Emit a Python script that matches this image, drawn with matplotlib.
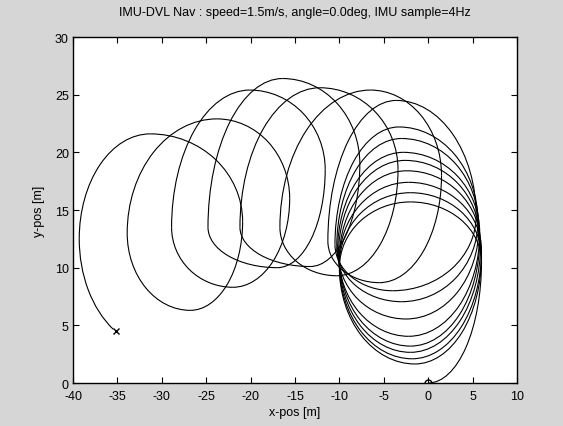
import math
import matplotlib
matplotlib.use("Agg")
import matplotlib.pyplot as plt
from matplotlib.patches import Arc

plt.rcParams['font.family'] = ['Liberation Sans', 'DejaVu Sans']
plt.rcParams['axes.unicode_minus'] = False

# extreme points of each loop (right, top, left, bottom)
right_x = [6.0, 6.0, 6.0, 5.9, 5.8, 5.8, 5.7, 5.6, 5.4, 1.5, -3.4, -7.7, -11.6, -15.6, -20.9]
right_y = [10.5, 11.0, 11.5, 12.0, 12.5, 13.0, 13.5, 14.0, 14.5, 18.0, 18.5, 19.0, 18.5, 16.0, 14.0]
top_x = [-2.0, -2.0, -2.2, -2.4, -2.6, -2.8, -3.0, -3.3, -3.6, -6.5, -12.2, -16.4, -20.1, -23.8, -31.3]
top_y = [15.7, 16.5, 17.4, 18.4, 19.3, 20.0, 21.2, 22.2, 24.5, 25.4, 25.6, 26.4, 25.4, 22.9, 21.6]
left_x = [-10.0, -10.0, -10.0, -10.0, -10.1, -10.2, -10.3, -10.5, -11.3, -16.7, -21.2, -24.8, -28.9, -33.9, -39.3]
left_y = [10.0, 10.3, 10.6, 10.9, 11.2, 11.5, 11.8, 12.0, 12.3, 13.5, 13.5, 13.5, 13.5, 13.0, 12.5]
# last bottom is where the final loop would have reached, the track stops earlier
bottom_x = [-1.5, -1.8, -2.0, -2.0, -2.2, -2.5, -3.0, -4.0, -5.5, -10.3, -13.3, -17.0, -22.0, -26.8, -30.5]
bottom_y = [1.65, 2.1, 2.66, 3.2, 4.05, 5.55, 7.05, 8.0, 8.7, 9.3, 10.1, 10.0, 8.3, 6.3, 3.0]

start = (0.0, 0.0)
end = (-35.2, 4.5)

# walk the path: start, then R, T, L, B for every loop
pts = [start]
for k in range(len(top_x)):
    pts.append((right_x[k], right_y[k]))
    pts.append((top_x[k], top_y[k]))
    pts.append((left_x[k], left_y[k]))
    pts.append((bottom_x[k], bottom_y[k]))

fig = plt.figure(figsize=(5.63, 4.27), dpi=100)
fig.patch.set_facecolor('#d6d6d6')
ax = fig.add_axes([0.1297, 0.1007, 0.7886, 0.8103])
ax.set_facecolor('white')

n = len(pts) - 1
for j in range(n):
    p, q = pts[j], pts[j + 1]
    # quarter ellipse between two extreme points
    if j % 2 == 0:
        cx, cy = p[0], q[1]
    else:
        cx, cy = q[0], p[1]
    w = 2 * abs(p[0] - q[0])
    h = 2 * abs(p[1] - q[1])
    t1 = (270 + 90 * j) % 360
    t2 = t1 + 90
    if j == n - 1:
        # stop the last quarter at the end mark
        t2 = math.degrees(math.atan2((end[1] - cy) / (h / 2), (end[0] - cx) / (w / 2))) % 360
    ax.add_patch(Arc((cx, cy), w, h, theta1=t1, theta2=t2, color='black', lw=0.8))

ax.plot(start[0], start[1], 'o', ms=5, mfc='none', mec='black', mew=1.0)
ax.plot(end[0], end[1], 'x', ms=4, color='black', mew=1.0)

ax.set_xlim(-40, 10)
ax.set_ylim(0, 30)
ax.set_xticks(range(-40, 11, 5))
ax.set_yticks(range(0, 31, 5))
ax.tick_params(direction='in', top=True, right=True, length=4, width=0.8,
               labelsize=9, colors='black')
ax.tick_params(axis='x', pad=5)
ax.tick_params(axis='y', pad=3)
for s in ax.spines.values():
    s.set_linewidth(1.0)

ax.set_title('IMU-DVL Nav : speed=1.5m/s, angle=0.0deg, IMU sample=4Hz', fontsize=9, pad=16)
ax.set_xlabel('x-pos [m]', fontsize=9, labelpad=3)
ax.set_ylabel('y-pos [m]', fontsize=9, labelpad=7)

fig.savefig('out.png', dpi=100, facecolor=fig.get_facecolor())
